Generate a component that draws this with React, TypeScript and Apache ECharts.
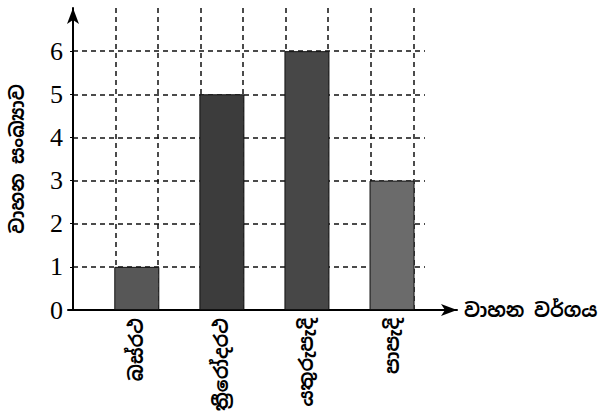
import React, { useEffect, useRef } from "react";
import * as echarts from "echarts";

const categories = ["බස්රථ", "ත්‍රීරෝදරථ", "යතුරුපැදි", "පාපැදි"];
const vehicleCounts = [1, 5, 6, 3];
const barColors = ["#575757", "#3c3c3c", "#474747", "#6b6b6b"];
const yTickValues = [0, 1, 2, 3, 4, 5, 6];
const xGridValues = [0, 1, 2, 3, 4, 5, 6, 7, 8];
const yAxisTitle = "වාහන සංඛ්‍යාව";
const xAxisTitle = "වාහන වර්ගය";

const catPos = categories.map((_, i) => 2 * i + 1.5);

export default function App() {
  const ref = useRef<HTMLDivElement>(null);
  useEffect(() => {
    if (!ref.current) return;
    const chart = echarts.init(ref.current, undefined, { renderer: "svg" });
    const dash = { color: "#111", width: 1.5, type: [5, 4] as any };
    const sinhala = "'Noto Sans Sinhala', 'Noto Serif Sinhala', 'Noto Sans', sans-serif";
    chart.setOption({
      animation: false,
      backgroundColor: "#fff",
      grid: [
        { left: 68, top: 8, width: 357, height: 302 },
        { left: 68, top: 8, width: 389, height: 302 },
      ],
      xAxis: [
        {
          gridIndex: 0,
          type: "value",
          min: 0,
          max: 357 / 43.14,
          interval: 1,
          axisLine: { show: false },
          axisTick: { show: false, customValues: xGridValues },
          axisLabel: {
            customValues: catPos,
            rotate: 90,
            margin: 8,
            fontSize: 19,
            fontWeight: "bold",
            color: "#000",
            fontFamily: sinhala,
            formatter: (v: number) => {
              const i = catPos.indexOf(v);
              return i >= 0 ? categories[i] : "";
            },
          },
          splitLine: { show: true, lineStyle: dash },
        },
        {
          gridIndex: 1,
          type: "value",
          min: 0,
          max: 1,
          axisLine: {
            show: true,
            symbol: ["none", "arrow"],
            symbolSize: [9, 16],
            lineStyle: { color: "#000", width: 2 },
          },
          axisTick: { show: false },
          axisLabel: { show: false },
          splitLine: { show: false },
          name: xAxisTitle,
          nameLocation: "end",
          nameGap: 7,
          nameTextStyle: { fontSize: 19, fontWeight: "bold", color: "#000", fontFamily: sinhala },
        },
      ],
      yAxis: [
        {
          gridIndex: 0,
          type: "value",
          min: 0,
          max: 7,
          interval: 1,
          axisLine: {
            show: true,
            symbol: ["none", "arrow"],
            symbolSize: [9, 16],
            lineStyle: { color: "#000", width: 2 },
          },
          axisTick: { show: true, length: 3, customValues: yTickValues, lineStyle: { color: "#000" } },
          axisLabel: {
            customValues: yTickValues,
            fontSize: 26,
            color: "#000",
            fontFamily: "'Liberation Serif', 'Times New Roman', serif",
            margin: 10,
          },
          splitLine: { show: true, lineStyle: dash },
          name: yAxisTitle,
          nameLocation: "middle",
          nameRotate: 90,
          nameGap: 46,
          nameTextStyle: { fontSize: 19, fontWeight: "bold", color: "#000", fontFamily: sinhala },
        },
        { gridIndex: 1, type: "value", show: false, min: 0, max: 1 },
      ],
      series: [
        {
          type: "bar",
          xAxisIndex: 0,
          yAxisIndex: 0,
          barWidth: 45,
          data: categories.map((c, i) => ({
            name: c,
            value: [catPos[i], vehicleCounts[i]],
            itemStyle: { color: barColors[i], borderColor: "#111", borderWidth: 1 },
          })),
        },
      ],
    });
    return () => chart.dispose();
  }, []);
  return (
    <div
      ref={ref}
      style={{ position: "fixed", left: 0, top: 0, width: 601, height: 416 }}
    />
  );
}
